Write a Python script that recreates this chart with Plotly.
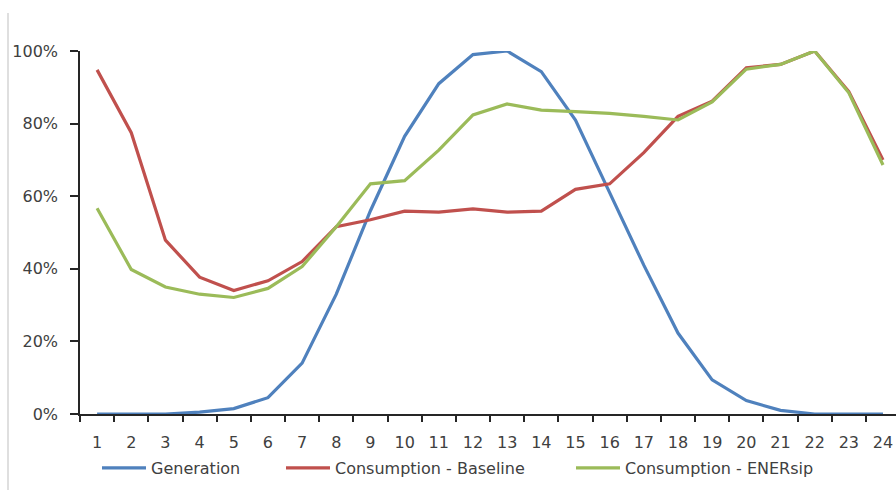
import plotly.graph_objects as go

# Hour of day (1..24) and normalised daily profiles
hours = list(range(1, 25))
generation = [0.0, 0.0, 0.0, 0.005, 0.015, 0.045, 0.14, 0.33, 0.56, 0.765, 0.91, 0.99,
              1.0, 0.943, 0.81, 0.61, 0.41, 0.223, 0.094, 0.037, 0.01, 0.0, 0.0, 0.0]
consumption_baseline = [0.948, 0.775, 0.479, 0.377, 0.34, 0.367, 0.42, 0.516, 0.535, 0.559, 0.556, 0.565,
                        0.556, 0.559, 0.619, 0.634, 0.72, 0.82, 0.862, 0.954, 0.963, 1.0, 0.888, 0.70]
consumption_enersip = [0.567, 0.398, 0.35, 0.33, 0.321, 0.346, 0.406, 0.516, 0.634, 0.643, 0.727, 0.824,
                       0.854, 0.837, 0.833, 0.828, 0.82, 0.81, 0.86, 0.95, 0.963, 1.0, 0.885, 0.686]

series = [
    ("Generation", generation, "#4F81BD"),
    ("Consumption - Baseline", consumption_baseline, "#C0504D"),
    ("Consumption - ENERsip", consumption_enersip, "#9BBB59"),
]

FONT = "DejaVu Sans"
SIZE = 16
TEXT = "#404040"
AXIS = "#262626"

cat_w = 34.17
plot_w = 896 - 80
plot_h = 363

# each series gets its own legend box so the entries can be spaced freely
legend_ids = ["legend", "legend2", "legend3"]
legend_left_px = [97, 281, 571]

fig = go.Figure()
for (name, values, color), lid in zip(series, legend_ids):
    fig.add_trace(go.Scatter(
        x=hours, y=values, name=name, mode="lines",
        line=dict(color=color, width=3.2), legend=lid,
    ))

legend_common = dict(orientation="h", xanchor="left", y=-54 / plot_h, yanchor="middle",
                     font=dict(family=FONT, size=SIZE, color=TEXT),
                     bgcolor="rgba(0,0,0,0)", itemwidth=44)
legends = {lid: dict(legend_common, x=(px - 80) / plot_w)
           for lid, px in zip(legend_ids, legend_left_px)}

fig.update_layout(
    width=896, height=490,
    margin=dict(l=80, r=0, t=51, b=76),
    paper_bgcolor="white", plot_bgcolor="white",
    font=dict(family=FONT, size=SIZE, color=TEXT),
    showlegend=True,
    **legends,
    xaxis=dict(
        range=[0.5, 0.5 + plot_w / cat_w],
        tickmode="array", tickvals=hours, ticktext=[str(h) for h in hours],
        ticks="", showgrid=False, zeroline=False,
        showline=True, linecolor=AXIS, linewidth=1.5,
        ticklabelstandoff=13,
        minor=dict(tickmode="array", tickvals=[h - 0.5 for h in hours] + [24.5],
                   ticks="outside", ticklen=6, tickwidth=1.5, tickcolor=AXIS, showgrid=False),
    ),
    yaxis=dict(
        range=[0, 1], tickmode="array", tickvals=[0, 0.2, 0.4, 0.6, 0.8, 1.0],
        tickformat=".0%", ticks="outside", ticklen=8, tickwidth=1.5, tickcolor=AXIS,
        showgrid=False, zeroline=False, showline=True, linecolor=AXIS, linewidth=1.5,
        ticklabelstandoff=9,
    ),
    shapes=[dict(type="line", xref="paper", yref="paper",
                 x0=-72 / plot_w, x1=-72 / plot_w, y0=-76 / plot_h, y1=1 + 38 / plot_h,
                 line=dict(color="#BFBFBF", width=1))],
)

fig.write_html("out.html")
